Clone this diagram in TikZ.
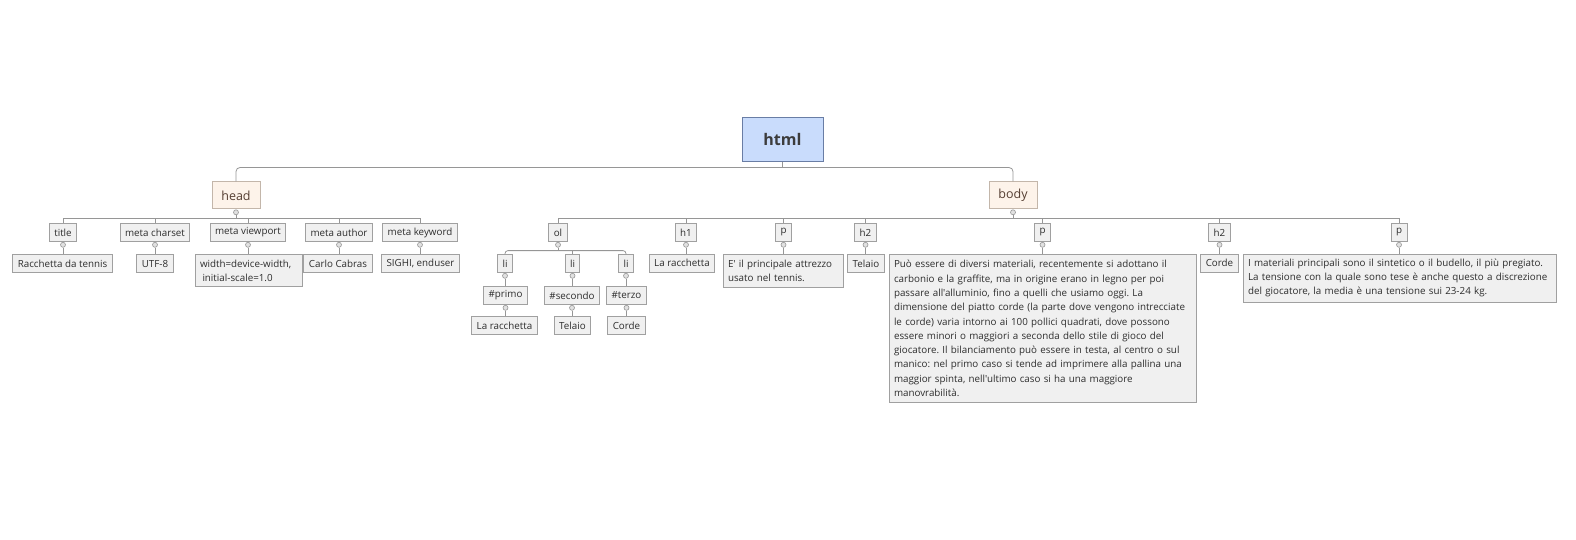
\documentclass[tikz,border=0pt]{standalone}
\usepackage{fontspec}
\setmainfont{Open Sans}[Ligatures=TeXOff]
\usetikzlibrary{positioning}
\frenchspacing

\definecolor{rootfill}{RGB}{201,220,252}
\definecolor{rootdraw}{RGB}{105,125,165}
\definecolor{roottext}{RGB}{60,60,60}
\definecolor{branchfill}{RGB}{253,243,234}
\definecolor{branchdraw}{RGB}{195,182,170}
\definecolor{branchtext}{RGB}{85,62,50}
\definecolor{tagfill}{RGB}{240,240,240}
\definecolor{tagdraw}{RGB}{160,160,160}
\definecolor{tagtext}{RGB}{45,45,45}
\definecolor{linkcolor}{RGB}{150,150,150}
\definecolor{knobfill}{RGB}{225,225,225}

\tikzstyle{root}=[draw=rootdraw,fill=rootfill,line width=1pt,minimum width=81pt,minimum height=44pt,font=\fontsize{16}{18}\selectfont\bfseries,text=roottext]
\tikzstyle{branch}=[draw=branchdraw,fill=branchfill,line width=1pt,minimum width=48pt,minimum height=27pt,font=\fontsize{12.5}{14}\selectfont,text=branchtext]
\tikzstyle{tag}=[draw=tagdraw,fill=tagfill,line width=1pt,minimum height=18pt,inner xsep=5pt,inner ysep=2pt,anchor=north,font=\fontsize{9.8}{14.3}\selectfont\frenchspacing,text=tagtext]
\tikzstyle{note}=[tag,align=left,inner ysep=2pt]
\tikzstyle{knob}=[circle,draw=linkcolor,fill=knobfill,line width=0.6pt,inner sep=0pt,minimum size=5pt]
\tikzstyle{link}=[draw=linkcolor,line width=0.8pt]

\begin{document}
\begin{tikzpicture}[x=1pt,y=-1pt]
  \useasboundingbox (0,0) rectangle (1576,540);

  % root and its two branches
  \node (html) [root] at (782.5,140) {html};
  \node (head) [branch] at (236,195.5) {head};
  \node (body) [branch] at (1013,195.5) {body};
  \coordinate[below=5pt of html] (hub);
  \path[link] (html.south) -- (hub);
  \path[link,rounded corners=4pt] (head.north) |- (hub) -| (body.north);

  % head
  \node (headk) [knob,below=0pt of head] {};
  \node (title) [tag] at (63,223) {title};
  \node (charset) [tag] at (155,223) {meta charset};
  \node (viewport) [tag] at (248,223) {meta viewport};
  \node (author) [tag] at (339,223) {meta author};
  \node (keyword) [tag] at (420,223) {meta keyword};
  \path[link]
  (headk.south) -- ++(0,3) -| (title.north)
  (headk.south) -- ++(0,3) -| (charset.north)
  (headk.south) -- ++(0,3) -| (viewport.north)
  (headk.south) -- ++(0,3) -| (author.north)
  (headk.south) -- ++(0,3) -| (keyword.north);

  \node (titlek) [knob,below=0pt of title] {};
  \node (charsetk) [knob,below=0pt of charset] {};
  \node (viewportk) [knob,below=0pt of viewport] {};
  \node (authork) [knob,below=0pt of author] {};
  \node (keywordk) [knob,below=0pt of keyword] {};
  \node (titlev) [tag] at (62.5,254) {Racchetta da tennis};
  \node (charsetv) [tag] at (155,254) {UTF-8};
  \node (viewportv) [note,text width=97pt,minimum height=32pt] at (248.5,254) {width=device-width,\\\hspace{2.5pt}initial-scale=1.0};
  \node (authorv) [tag] at (338,254) {Carlo Cabras};
  \node (keywordv) [tag] at (420.5,254) {SIGHI, enduser};
  \path[link]
  (titlek.south) -- (titlek |- titlev.north)
  (charsetk.south) -- (charsetk |- charsetv.north)
  (viewportk.south) -- (viewportk |- viewportv.north)
  (authork.south) -- (authork |- authorv.north)
  (keywordk.south) -- (keywordk |- keywordv.north);

  % body
  \node (bodyk) [knob,below=0pt of body] {};
  \node (ol) [tag] at (558,223) {ol};
  \node (hone) [tag] at (686,223) {h1};
  \node (pone) [tag] at (783.5,223) {p};
  \node (htwo) [tag] at (865.5,223) {h2};
  \node (ptwo) [tag] at (1042.5,223) {p};
  \node (hthree) [tag] at (1219.5,223) {h2};
  \node (pthree) [tag] at (1399,223) {p};
  \path[link]
  (bodyk.south) -- ++(0,3) -| (ol.north)
  (bodyk.south) -- ++(0,3) -| (hone.north)
  (bodyk.south) -- ++(0,3) -| (pone.north)
  (bodyk.south) -- ++(0,3) -| (htwo.north)
  (bodyk.south) -- ++(0,3) -| (ptwo.north)
  (bodyk.south) -- ++(0,3) -| (hthree.north)
  (bodyk.south) -- ++(0,3) -| (pthree.north);

  \node (honek) [knob,below=0pt of hone] {};
  \node (ponek) [knob,below=0pt of pone] {};
  \node (htwok) [knob,below=0pt of htwo] {};
  \node (ptwok) [knob,below=0pt of ptwo] {};
  \node (hthreek) [knob,below=0pt of hthree] {};
  \node (pthreek) [knob,below=0pt of pthree] {};
  \node (honev) [tag] at (682,253.5) {La racchetta};
  \node (ponev) [note,text width=110pt,minimum height=33pt] at (783,253.5) {E' il principale attrezzo\\usato nel tennis.};
  \node (htwov) [tag] at (866,254) {Telaio};
  \node (ptwov) [note,text width=297pt,minimum height=148pt] at (1042.5,254) {Può essere di diversi materiali, recentemente si adottano il\\
    carbonio e la graffite, ma in origine erano in legno per poi\\
    passare all'alluminio, fino a quelli che usiamo oggi. La\\
    dimensione del piatto corde (la parte dove vengono intrecciate\\
    le corde) varia intorno ai 100 pollici quadrati, dove possono\\
    essere minori o maggiori a seconda dello stile di gioco del\\
    giocatore. Il bilanciamento può essere in testa, al centro o sul\\
    manico: nel primo caso si tende ad imprimere alla pallina una\\
    maggior spinta, nell'ultimo caso si ha una maggiore\\
    manovrabilità.};
  \node (hthreev) [tag] at (1219.5,253.5) {Corde};
  \node (pthreev) [note,text width=303pt,minimum height=48pt] at (1399.5,253.5) {I materiali principali sono il sintetico o il budello, il più pregiato.\\
    La tensione con la quale sono tese è anche questo a discrezione\\
    del giocatore, la media è una tensione sui 23-24 kg.};
  \path[link]
  (honek.south) -- (honek |- honev.north)
  (ponek.south) -- (ponek |- ponev.north)
  (htwok.south) -- (htwok |- htwov.north)
  (ptwok.south) -- (ptwok |- ptwov.north)
  (hthreek.south) -- (hthreek |- hthreev.north)
  (pthreek.south) -- (pthreek |- pthreev.north);

  % ordered list
  \node (olk) [knob,below=0pt of ol] {};
  \node (lione) [tag] at (505,254) {li};
  \node (litwo) [tag] at (572.5,254) {li};
  \node (lithree) [tag] at (626,254) {li};
  \coordinate[below=3pt of olk] (olhub);
  \path[link] (olk.south) -- (olhub) (olhub -| litwo.north) -- (litwo.north);
  \path[link,rounded corners=3pt] (lione.north) |- (olhub) -| (lithree.north);

  \node (lionek) [knob,below=0pt of lione] {};
  \node (litwok) [knob,below=0pt of litwo] {};
  \node (lithreek) [knob,below=0pt of lithree] {};
  \node (primo) [tag] at (505.5,286) {\#primo};
  \node (secondo) [tag] at (572,286) {\#secondo};
  \node (terzo) [tag] at (626.5,286) {\#terzo};
  \path[link]
  (lionek.south) -- (lionek |- primo.north)
  (litwok.south) -- (litwok |- secondo.north)
  (lithreek.south) -- (lithreek |- terzo.north);

  \node (primok) [knob,below=0pt of primo] {};
  \node (secondok) [knob,below=0pt of secondo] {};
  \node (terzok) [knob,below=0pt of terzo] {};
  \node (primov) [tag] at (504.5,316) {La racchetta};
  \node (secondov) [tag] at (572.5,316) {Telaio};
  \node (terzov) [tag] at (626.5,316) {Corde};
  \path[link]
  (primok.south) -- (primok |- primov.north)
  (secondok.south) -- (secondok |- secondov.north)
  (terzok.south) -- (terzok |- terzov.north);
\end{tikzpicture}
\end{document}
